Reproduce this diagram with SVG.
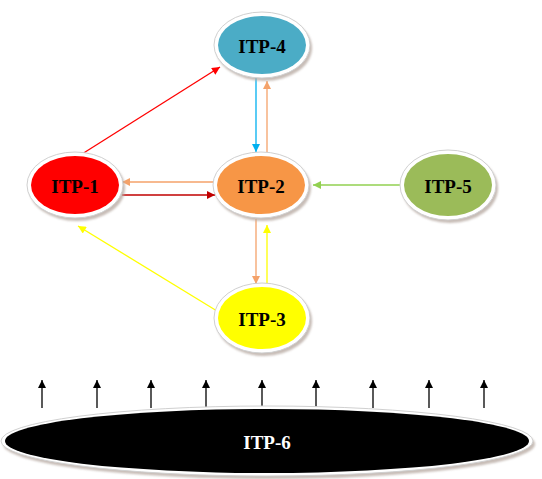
<svg xmlns="http://www.w3.org/2000/svg" width="542" height="479" viewBox="0 0 542 479">
<style>
.shadow{fill:#b9aca4;opacity:0.8}
.ring{fill:#ffffff;stroke:#d0d0d0;stroke-width:1}
.lbl{font-family:"Liberation Serif","Times New Roman",serif;font-weight:bold;font-size:19px;text-anchor:middle;dominant-baseline:central;fill:#000}
.edge{fill:none;stroke-width:1.3}
</style>
<defs>
<filter id="blur" x="-10%" y="-10%" width="120%" height="120%"><feGaussianBlur stdDeviation="1.2"/></filter>
<marker id="aRed" viewBox="0 0 10 10" refX="10" refY="5" markerWidth="9" markerHeight="8" markerUnits="userSpaceOnUse" orient="auto"><path d="M0,0 L10,5 L0,10 z" fill="#ff0000"/></marker>
<marker id="aDark" viewBox="0 0 10 10" refX="10" refY="5" markerWidth="9" markerHeight="8" markerUnits="userSpaceOnUse" orient="auto"><path d="M0,0 L10,5 L0,10 z" fill="#c00000"/></marker>
<marker id="aBlue" viewBox="0 0 10 10" refX="10" refY="5" markerWidth="9" markerHeight="8" markerUnits="userSpaceOnUse" orient="auto"><path d="M0,0 L10,5 L0,10 z" fill="#00b0f0"/></marker>
<marker id="aOr" viewBox="0 0 10 10" refX="10" refY="5" markerWidth="9" markerHeight="8" markerUnits="userSpaceOnUse" orient="auto"><path d="M0,0 L10,5 L0,10 z" fill="#f4a26a"/></marker>
<marker id="aGreen" viewBox="0 0 10 10" refX="10" refY="5" markerWidth="9" markerHeight="8" markerUnits="userSpaceOnUse" orient="auto"><path d="M0,0 L10,5 L0,10 z" fill="#92d050"/></marker>
<marker id="aYel" viewBox="0 0 10 10" refX="10" refY="5" markerWidth="9" markerHeight="8" markerUnits="userSpaceOnUse" orient="auto"><path d="M0,0 L10,5 L0,10 z" fill="#ffff00"/></marker>
<marker id="aBlk" viewBox="0 0 10 10" refX="10" refY="5" markerWidth="9" markerHeight="8" markerUnits="userSpaceOnUse" orient="auto"><path d="M0,0 L10,5 L0,10 z" fill="#000"/></marker>
</defs>

<g id="connectors">
<line class="edge" x1="82" y1="154" x2="220" y2="67" stroke="#ff0000" marker-end="url(#aRed)"/>
<line class="edge" x1="256" y1="78" x2="256" y2="152" stroke="#00b0f0" marker-end="url(#aBlue)"/>
<line class="edge" x1="267" y1="152" x2="267" y2="81" stroke="#f4a26a" marker-end="url(#aOr)"/>
<line class="edge" x1="217" y1="182" x2="122" y2="182" stroke="#f4a26a" marker-end="url(#aOr)"/>
<line class="edge" x1="122" y1="195" x2="215" y2="195" stroke="#c00000" marker-end="url(#aDark)"/>
<line class="edge" x1="403" y1="185" x2="313" y2="185" stroke="#92d050" marker-end="url(#aGreen)"/>
<line class="edge" x1="256" y1="219" x2="256" y2="284" stroke="#f4a26a" marker-end="url(#aOr)"/>
<line class="edge" x1="267" y1="283" x2="267" y2="225" stroke="#ffff00" marker-end="url(#aYel)"/>
<line class="edge" x1="217" y1="311" x2="78" y2="226" stroke="#ffff00" marker-end="url(#aYel)"/>
<line class="edge" x1="42" y1="408" x2="42" y2="380" stroke="#000" marker-end="url(#aBlk)"/>
<line class="edge" x1="97" y1="408" x2="97" y2="380" stroke="#000" marker-end="url(#aBlk)"/>
<line class="edge" x1="151" y1="408" x2="151" y2="380" stroke="#000" marker-end="url(#aBlk)"/>
<line class="edge" x1="206" y1="408" x2="206" y2="380" stroke="#000" marker-end="url(#aBlk)"/>
<line class="edge" x1="262" y1="408" x2="262" y2="380" stroke="#000" marker-end="url(#aBlk)"/>
<line class="edge" x1="316" y1="408" x2="316" y2="380" stroke="#000" marker-end="url(#aBlk)"/>
<line class="edge" x1="373" y1="408" x2="373" y2="380" stroke="#000" marker-end="url(#aBlk)"/>
<line class="edge" x1="429" y1="408" x2="429" y2="380" stroke="#000" marker-end="url(#aBlk)"/>
<line class="edge" x1="484" y1="408" x2="484" y2="380" stroke="#000" marker-end="url(#aBlk)"/>
</g>

<g id="itp4">
<ellipse class="shadow" filter="url(#blur)" cx="264" cy="48" rx="48" ry="33"/>
<ellipse class="ring" cx="262" cy="45" rx="48" ry="33"/>
<ellipse cx="262" cy="45" rx="44" ry="29" fill="#4bacc6"/>
<text class="lbl" x="262" y="46">ITP-4</text>
</g>

<g id="itp1">
<ellipse class="shadow" filter="url(#blur)" cx="77" cy="188" rx="48" ry="33"/>
<ellipse class="ring" cx="75" cy="185" rx="48" ry="33"/>
<ellipse cx="75" cy="185" rx="44" ry="29" fill="#ff0000"/>
<text class="lbl" x="75" y="186">ITP-1</text>
</g>

<g id="itp2">
<ellipse class="shadow" filter="url(#blur)" cx="263" cy="188" rx="48" ry="33"/>
<ellipse class="ring" cx="261" cy="185" rx="48" ry="33"/>
<ellipse cx="261" cy="185" rx="44" ry="29" fill="#f79646"/>
<text class="lbl" x="261" y="186">ITP-2</text>
</g>

<g id="itp5">
<ellipse class="shadow" filter="url(#blur)" cx="450" cy="188" rx="48" ry="35"/>
<ellipse class="ring" cx="448" cy="185" rx="48" ry="35"/>
<ellipse cx="448" cy="185" rx="44" ry="31" fill="#9bbb59"/>
<text class="lbl" x="448" y="186">ITP-5</text>
</g>

<g id="itp3">
<ellipse class="shadow" filter="url(#blur)" cx="264" cy="321" rx="48" ry="35"/>
<ellipse class="ring" cx="262" cy="318" rx="48" ry="35"/>
<ellipse cx="262" cy="318" rx="44" ry="31" fill="#ffff00"/>
<text class="lbl" x="262" y="319">ITP-3</text>
</g>

<g id="itp6">
<ellipse class="shadow" filter="url(#blur)" cx="269" cy="444" rx="266" ry="35"/>
<ellipse class="ring" cx="267" cy="441" rx="266" ry="35"/>
<ellipse cx="267" cy="441" rx="262" ry="32" fill="#000000"/>
<text class="lbl" x="267" y="442" style="fill:#ffffff">ITP-6</text>
</g>
</svg>
